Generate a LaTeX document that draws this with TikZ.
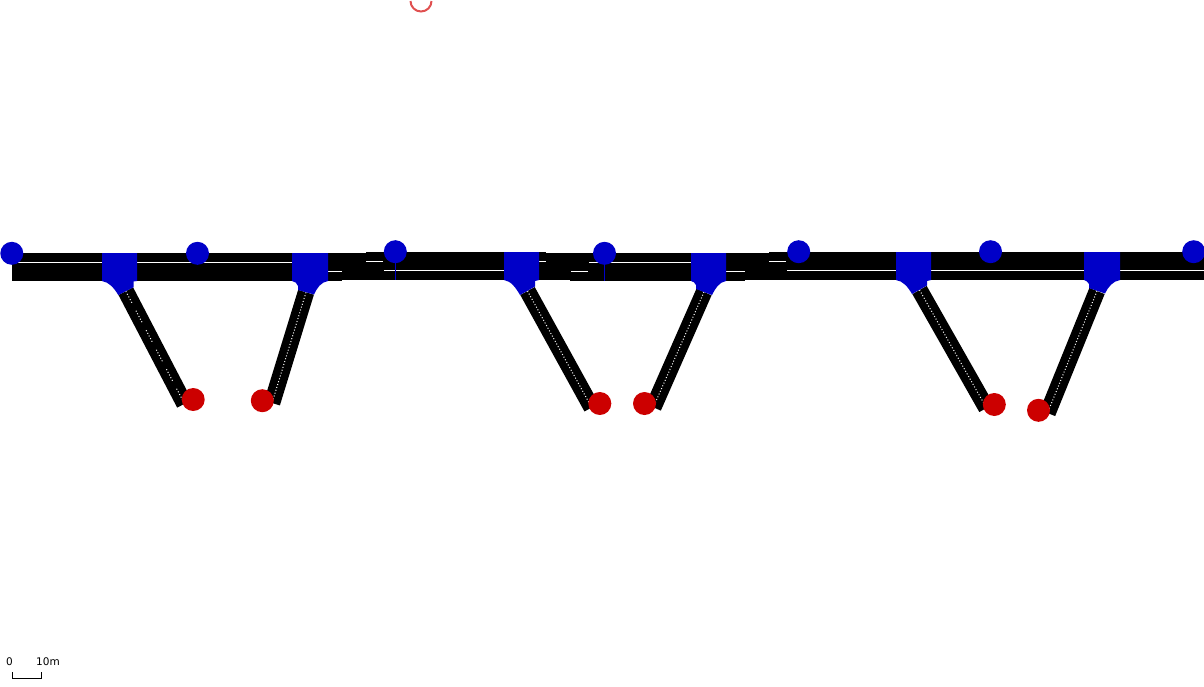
\documentclass[tikz,border=0pt]{standalone}
\usepackage{fontspec}
\setmainfont{Liberation Sans}
\newfontfamily\scalefont{DejaVu Sans}
\definecolor{bl}{HTML}{0000C8}
\definecolor{rd}{HTML}{CC0000}
\definecolor{arcred}{HTML}{E05050}
\tikzset{
  x=1pt,y=-1pt,
  road/.style={fill=black,draw=none},
  lane/.style={white,line width=1pt},
  leg/.style={black,line width=16.5pt},
  legline/.style={white,line width=1pt,dash pattern=on 1pt off 2pt},
  leglinegap/.style={white,line width=1pt,dash pattern=on 1pt off 2pt on 1pt off 2pt on 1pt off 2pt on 1pt off 2pt on 1pt off 9pt},
  junction/.style={fill=bl,draw=none},
  bluedot/.style={circle,fill=bl,draw=none,minimum size=23pt,inner sep=0pt},
  reddot/.style={circle,fill=rd,draw=none,minimum size=23pt,inner sep=0pt},
  stem/.style={bl,line width=0.8pt},
  scalebar/.style={black,line width=0.8pt},
  scaletext/.style={font=\scalefont\fontsize{10.5}{12}\selectfont,inner sep=0pt,text=black}
}
\begin{document}
\begin{tikzpicture}
\useasboundingbox (0,0) rectangle (1204,686);
% roads
\fill[road] (12,253) rectangle (342,281);
\fill[road] (342,253) rectangle (370,280);
\fill[road] (366,252) rectangle (546,280);
\fill[road] (546,253) rectangle (572,280);
\fill[road] (570,253) rectangle (745,281);
\fill[road] (745,253) rectangle (772,280);
\fill[road] (769,252) rectangle (1204,280);
% lane lines
\foreach \xa/\xb/\yy in {12/102/262.4,137/292/262.4,328/342/271.3,366/383/261,384/504/270.3,539/546/261,571/588/271.3,589/691/262.4,726/745/271.3,769/786/261,787/896/270.3,931/1084/270.3,1120/1204/270.3}
  \draw[lane] (\xa,\yy) -- (\xb,\yy);
% side roads
\foreach \n/\ax/\ay/\bx/\by in {1/125.8/291.2/184.5/403.8,2/306/292.3/272/403,3/527.5/291/591.7/407.5,4/704/292/653.3/407.3,5/919.5/290/986.5/408,6/1097/291/1047.5/413}{
  \coordinate (la\n) at (\ax,\ay);
  \coordinate (lb\n) at (\bx,\by);
  \draw[leg] (la\n) -- (lb\n);
}
\draw[leglinegap] (la1) -- (lb1);
\foreach \n in {2,3,4,5,6}
  \draw[legline] (la\n) -- (lb\n);
% junctions
\fill[junction] (102,253) -- (137,253) -- (137,281) -- (133.5,281.5) -- (133.5,287.3) -- (118.3,295) .. controls (114,288) and (109,282) .. (102,281) -- cycle;
\fill[junction] (292,253) -- (328,253) -- (328,281) .. controls (321,282) and (317,288) .. (314,294.5) -- (298,290) -- (298,286) .. controls (297,283) and (295,281.5) .. (292,281) -- cycle;
\fill[junction] (504,252) -- (539,252) -- (539,280) -- (535,281) -- (535,286.5) -- (520,295) .. controls (516,288) and (511,281) .. (504,280) -- cycle;
\fill[junction] (691,253) -- (726,253) -- (726,281) .. controls (719,282) and (715,289) .. (712,295) -- (696,289) -- (696,285) .. controls (695,282.5) and (693,281.5) .. (691,281) -- cycle;
\fill[junction] (896,252) -- (931,252) -- (931,280) -- (927,281) -- (927,285.5) -- (912,294) .. controls (908,287) and (903,281) .. (896,280) -- cycle;
\fill[junction] (1084,252) -- (1120,252) -- (1120,280) .. controls (1113,281) and (1108,287) .. (1105,293.5) -- (1089,288) -- (1089,284) .. controls (1088,282) and (1086,280.5) .. (1084,280) -- cycle;
% stems
\draw[stem] (395.3,262) -- (395.3,280);
\draw[stem] (604.4,264) -- (604.4,281);
% circles
\foreach \n/\x/\y in {a/11.8/253.3,b/197.5/253.3,c/395.3/251.7,d/604.5/253.3,e/798.7/251.7,f/990.5/251.7,g/1193.7/251.7}
  \node[bluedot] (blue\n) at (\x,\y) {};
\foreach \n/\x/\y in {a/193.2/399.5,b/262.3/400.7,c/599.8/403.5,d/644.5/403.5,e/994.3/404.5,f/1038.5/410.3}
  \node[reddot] (red\n) at (\x,\y) {};
% arc at the top
\draw[arcred,line width=2pt] (410.5,1) arc[start angle=180,end angle=0,radius=10.5];
% scale
\node[scaletext] (s0) at (9.5,661.5) {0};
\node[scaletext] (s10) at (48,661.5) {10m};
\coordinate (sa) at (12.5,672);
\coordinate (sb) at (41.5,672);
\draw[scalebar] (sa) -- (12.5,678) -- (41.5,678) -- (sb);
\end{tikzpicture}
\end{document}
